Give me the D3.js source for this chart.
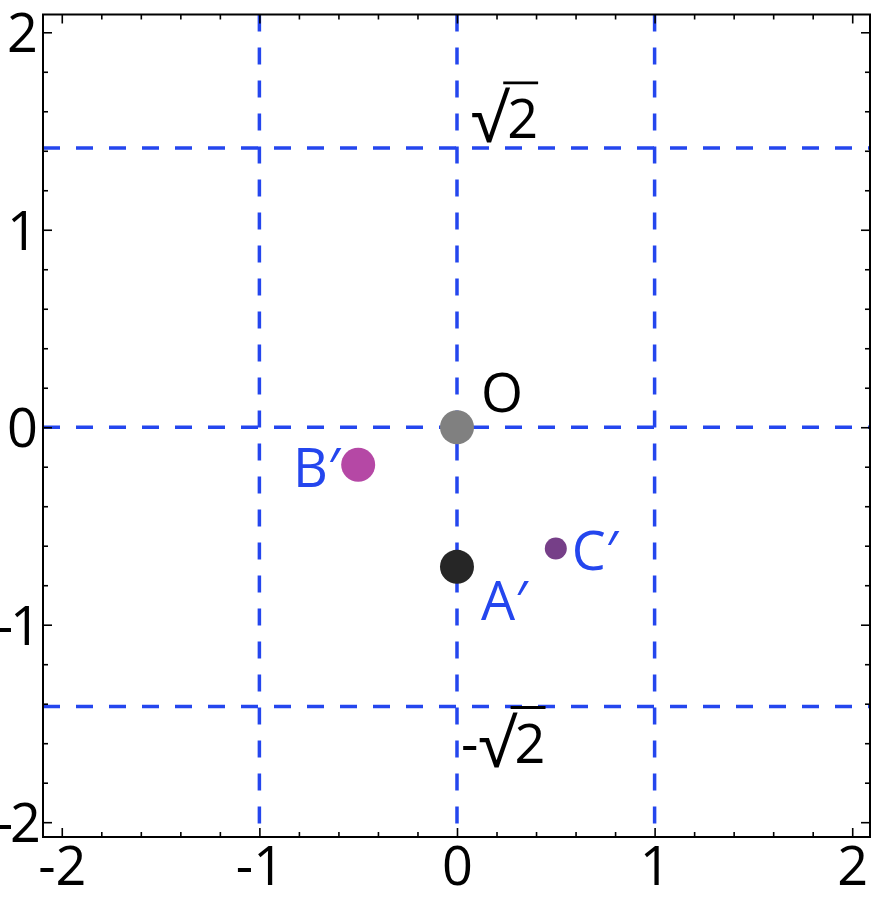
<!DOCTYPE html>
<html>
<head>
<meta charset="utf-8">
<script src="https://cdn.jsdelivr.net/npm/d3@7.9.0/dist/d3.min.js"></script>
<style>
  body { margin: 0; background: #fff; }
  svg text { font-family: "Open Sans", "DejaVu Sans", sans-serif; }
</style>
</head>
<body>
<svg id="chart" width="882" height="900"></svg>
<script>
// data
const majorTicks = [-2, -1, 0, 1, 2];
const minorTicks = [-1.8, -1.6, -1.4, -1.2, -0.8, -0.6, -0.4, -0.2, 0.2, 0.4, 0.6, 0.8, 1.2, 1.4, 1.6, 1.8];
const gridX = [-1, 0, 1];
const gridY = [1.4142, 0, -1.4142];
const gridYLabels = ['√2', null, '-√2'];
const pointNames = ['O', 'A′', 'B′', 'C′'];
const pointX = [0, 0, -0.5, 0.5];
const pointY = [0, -0.707, -0.19, -0.614];

const blue = '#2446ee';
const fontSize = 54;
const pointStyle = {
  'O':  { fill: '#808080', r: 17, text: '#000', dx: 24, dy: -15, anchor: 'start' },
  'A′': { fill: '#262626', r: 17, text: blue, dx: 24, dy: 53, anchor: 'start' },
  'B′': { fill: '#b548a5', r: 17, text: blue, dx: -18, dy: 22, anchor: 'end' },
  'C′': { fill: '#763f88', r: 11, text: blue, dx: 16, dy: 22, anchor: 'start' },
};

const svg = d3.select('#chart');
const pLeft = 43, pRight = 870, pTop = 14.5, pBottom = 837;

const x = d3.scaleLinear().domain([-2.095, 2.09]).range([pLeft, pRight]);
const y = d3.scaleLinear().domain([-2.075, 2.09]).range([pBottom, pTop]);

// dashed grid
svg.selectAll('line.gx')
  .data(gridX)
  .join('line')
  .attr('class', 'gx')
  .attr('x1', (d) => x(d)).attr('x2', (d) => x(d))
  .attr('y1', pTop).attr('y2', pBottom)
  .attr('stroke', blue).attr('stroke-width', 3.5)
  .attr('stroke-dasharray', '17,16');

svg.selectAll('line.gy')
  .data(gridY)
  .join('line')
  .attr('class', 'gy')
  .attr('x1', pLeft).attr('x2', pRight)
  .attr('y1', (d) => y(d)).attr('y2', (d) => y(d))
  .attr('stroke', blue).attr('stroke-width', 3.5)
  .attr('stroke-dasharray', '17,16');

// frame axes, ticks pointing in
function frameAxis(axisFn, scale, tx, ty, showLabels) {
  let major = svg.append('g')
    .attr('transform', `translate(${tx},${ty})`)
    .call(axisFn(scale).tickValues(majorTicks).tickSize(-9).tickPadding(8));
  let minor = svg.append('g')
    .attr('transform', `translate(${tx},${ty})`)
    .call(axisFn(scale).tickValues(minorTicks).tickSize(-5).tickFormat(''));
  [major, minor].forEach((g) => {
    g.select('.domain').remove();
    g.selectAll('line').attr('stroke', '#000').attr('stroke-width', 1.6);
  });
  major.selectAll('text')
    .attr('font-size', fontSize)
    .attr('fill', '#000')
    .attr('font-family', '"Open Sans", sans-serif')
    .text((d) => (showLabels ? (d < 0 ? '-' + Math.abs(d) : d) : ''));
  return major;
}

let bAxis = frameAxis(d3.axisBottom, x, 0, pBottom, true);
bAxis.selectAll('text').attr('dy', '0.71em').attr('y', 10);
frameAxis(d3.axisTop, x, 0, pTop, false);
let lAxis = frameAxis(d3.axisLeft, y, pLeft, 0, true);
lAxis.selectAll('text').attr('x', -5).attr('dy', '0.36em')
  .attr('letter-spacing', (d) => (d < 0 ? -3 : 0));
frameAxis(d3.axisRight, y, pRight, 0, false);

svg.append('rect')
  .attr('x', pLeft).attr('y', pTop)
  .attr('width', pRight - pLeft).attr('height', pBottom - pTop)
  .attr('fill', 'none').attr('stroke', '#000').attr('stroke-width', 2);

// sqrt labels on the horizontal lines
gridY.forEach((v, i) => {
  let lab = gridYLabels[i];
  if (!lab) return;
  let baseY = y(v) + (v > 0 ? -10 : 56);
  let t = svg.append('text')
    .attr('x', x(0) + (v > 0 ? 14 : 4))
    .attr('y', baseY)
    .attr('font-size', fontSize)
    .attr('fill', '#000');
  let parts = lab.split('√');
  if (parts[0]) t.append('tspan').text(parts[0]);
  t.append('tspan').attr('font-size', 66).attr('dy', 4).text('√');
  t.append('tspan').attr('dy', -4).text(parts[1]);

  // bar over the radicand
  let node = t.node();
  let n = node.getNumberOfChars();
  let rad = node.getExtentOfChar(n - 2);
  let last = node.getExtentOfChar(n - 1);
  svg.append('line')
    .attr('x1', rad.x + rad.width - 4)
    .attr('x2', last.x + last.width)
    .attr('y1', rad.y + 12).attr('y2', rad.y + 12)
    .attr('stroke', '#000').attr('stroke-width', 2.8);
});

// points
pointNames.forEach((name, i) => {
  let s = pointStyle[name];
  svg.append('circle')
    .attr('cx', x(pointX[i]))
    .attr('cy', y(pointY[i]))
    .attr('r', s.r)
    .attr('fill', s.fill);
  svg.append('text')
    .attr('x', x(pointX[i]) + s.dx)
    .attr('y', y(pointY[i]) + s.dy)
    .attr('text-anchor', s.anchor)
    .attr('font-size', fontSize)
    .attr('fill', s.text)
    .text(name);
});
</script>
</body>
</html>
